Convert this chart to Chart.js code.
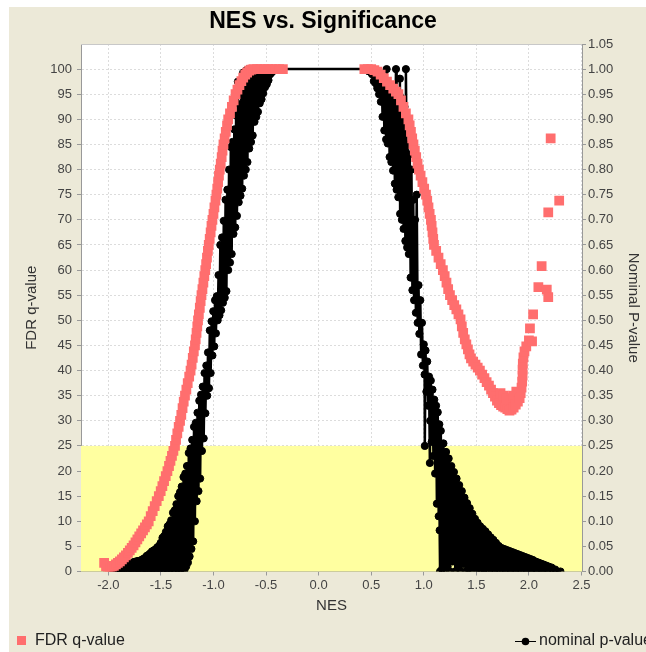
<!DOCTYPE html>
<html><head><meta charset="utf-8">
<script src="https://cdn.jsdelivr.net/npm/chart.js@4.4.0/dist/chart.umd.min.js"></script>
<style>html,body{margin:0;padding:0;background:#fff;overflow:hidden}#wrap{position:absolute;left:0;top:0;width:646px;height:652px}</style>
</head><body><div id="wrap"><canvas id="c" width="646" height="652"></canvas></div>
<script>
// ---- tick labels ----
const xTicks = [-2.0,-1.5,-1.0,-0.5,0.0,0.5,1.0,1.5,2.0,2.5];
const fdrTicks = [0,5,10,15,20,25,30,35,40,45,50,55,60,65,70,75,80,85,90,95,100];
const pTicks = [0,0.05,0.10,0.15,0.20,0.25,0.30,0.35,0.40,0.45,0.50,0.55,0.60,0.65,0.70,0.75,0.80,0.85,0.90,0.95,1.00,1.05];
const fdrCutoff = 25; // yellow significance band, FDR 0..25

// ---- FDR q-value series: [NES, q] ----
const fdrPoints = [
[-2.040,1.7],[-2.022,1.0],[-2.004,0.7],[-1.985,0.7],[-1.966,0.9],[-1.947,1.1],[-1.928,1.4],[-1.909,1.7],
[-1.890,2.0],[-1.871,2.4],[-1.852,2.8],[-1.833,3.2],[-1.814,3.7],[-1.796,4.2],[-1.778,4.7],[-1.760,5.2],
[-1.742,5.8],[-1.724,6.4],[-1.706,7.0],[-1.688,7.6],[-1.670,8.2],[-1.652,8.8],[-1.634,9.4],[-1.616,10.0],
[-1.597,11.0],[-1.578,12.0],[-1.559,13.0],[-1.540,14.0],[-1.520,15.0],[-1.502,16.0],[-1.486,17.0],[-1.470,18.0],
[-1.454,19.0],[-1.438,20.0],[-1.423,21.0],[-1.409,22.0],[-1.395,23.0],[-1.381,24.0],[-1.366,25.0],[-1.356,26.2],
[-1.344,27.5],[-1.331,28.8],[-1.318,30.0],[-1.306,31.2],[-1.294,32.5],[-1.283,33.8],[-1.271,35.0],[-1.258,36.2],
[-1.245,37.5],[-1.231,38.8],[-1.218,40.0],[-1.208,41.2],[-1.197,42.5],[-1.187,43.8],[-1.176,45.0],[-1.169,46.2],
[-1.161,47.5],[-1.154,48.8],[-1.147,50.0],[-1.139,51.2],[-1.130,52.5],[-1.122,53.8],[-1.114,55.0],[-1.105,56.2],
[-1.096,57.5],[-1.087,58.8],[-1.078,60.0],[-1.070,61.2],[-1.062,62.5],[-1.053,63.8],[-1.045,65.0],[-1.036,66.2],
[-1.027,67.5],[-1.019,68.8],[-1.010,70.0],[-1.000,71.2],[-0.991,72.5],[-0.981,73.8],[-0.972,75.0],[-0.964,76.2],
[-0.956,77.5],[-0.948,78.8],[-0.940,80.0],[-0.931,81.2],[-0.922,82.5],[-0.914,83.8],[-0.905,85.0],[-0.894,86.2],
[-0.883,87.5],[-0.871,88.8],[-0.860,90.0],[-0.843,91.2],[-0.825,92.5],[-0.808,93.8],[-0.790,95.0],[-0.772,95.9],
[-0.753,96.8],[-0.735,97.6],[-0.717,98.3],[-0.698,98.9],[-0.680,99.3],[-0.660,99.7],[-0.640,99.9],[-0.620,100],
[-0.585,100],[-0.550,100],[-0.515,100],[-0.480,100],[-0.445,100],[-0.410,100],[-0.375,100],[-0.340,100],
[0.435,100],[0.468,100],[0.500,100],[0.530,99.8],[0.560,99.5],[0.590,98.9],[0.620,98.2],[0.650,97.5],
[0.680,96.8],[0.710,96.1],[0.735,95.5],[0.759,95.0],[0.783,93.8],[0.807,92.5],[0.830,91.2],[0.854,90.0],
[0.866,88.8],[0.878,87.5],[0.890,86.2],[0.902,85.0],[0.915,83.8],[0.928,82.5],[0.941,81.2],[0.954,80.0],
[0.970,78.8],[0.987,77.5],[1.004,76.2],[1.021,75.0],[1.033,73.8],[1.045,72.5],[1.056,71.2],[1.068,70.0],
[1.075,68.8],[1.083,67.5],[1.090,66.2],[1.097,65.0],[1.118,63.8],[1.140,62.5],[1.161,61.2],[1.182,60.0],
[1.199,58.8],[1.216,57.5],[1.232,56.2],[1.249,55.0],[1.270,54.0],[1.290,53.0],[1.310,52.2],[1.330,51.2],
[1.350,50.2],[1.362,48.8],[1.375,47.5],[1.390,46.2],[1.405,45.2],[1.420,44.2],[1.435,43.2],[1.449,42.4],
[1.470,41.8],[1.492,41.2],[1.513,40.6],[1.534,40.0],[1.555,39.2],[1.577,38.5],[1.598,37.7],[1.620,37.0],
[1.640,36.2],[1.658,35.5],[1.677,34.8],[1.696,34.0],[1.715,33.5],[1.730,35.5],[1.735,33.1],[1.755,32.8],
[1.760,35.0],[1.775,32.6],[1.790,34.5],[1.795,32.3],[1.815,32.0],[1.820,34.0],[1.835,32.2],[1.850,35.0],
[1.855,32.6],[1.875,33.2],[1.880,35.8],[1.895,33.8],[1.912,34.5],[1.922,35.5],[1.930,36.6],[1.936,37.8],
[1.940,39.0],[1.940,40.2],[1.942,41.4],[1.948,42.6],[1.958,43.8],[1.975,44.8],[2.000,46.0],[2.030,45.8],
[2.010,48.4],[2.040,51.2],[2.090,56.6],[2.170,56.1],[2.184,54.6],[2.121,60.8],[2.184,71.5],[2.207,86.2],
[2.288,73.8]
];

// ---- nominal p-value series: [NES, p], in NES order ----
const pvalPoints = [
[-1.960,0.000],[-1.952,0.002],[-1.943,0.000],[-1.935,0.003],[-1.927,0.000],[-1.918,0.004],
[-1.910,0.000],[-1.902,0.005],[-1.893,0.000],[-1.885,0.008],[-1.877,0.000],[-1.868,0.009],
[-1.860,0.000],[-1.852,0.011],[-1.843,0.001],[-1.835,0.014],[-1.827,0.000],[-1.818,0.015],
[-1.810,0.001],[-1.802,0.016],[-1.793,0.000],[-1.785,0.017],[-1.777,0.002],[-1.768,0.018],
[-1.760,0.000],[-1.752,0.019],[-1.743,0.001],[-1.735,0.020],[-1.727,0.000],[-1.718,0.021],
[-1.710,0.002],[-1.702,0.021],[-1.693,0.000],[-1.685,0.023],[-1.677,0.001],[-1.668,0.025],
[-1.660,0.000],[-1.652,0.027],[-1.643,0.002],[-1.635,0.031],[-1.627,0.000],[-1.618,0.033],
[-1.610,0.003],[-1.602,0.036],[-1.593,0.000],[-1.585,0.040],[-1.577,0.002],[-1.568,0.042],
[-1.560,0.000],[-1.552,0.044],[-1.543,0.004],[-1.535,0.048],[-1.527,0.000],[-1.518,0.051],
[-1.510,0.003],[-1.502,0.057],[-1.493,0.000],[-1.485,0.067],[-1.477,0.002],[-1.468,0.071],
[-1.460,0.000],[-1.452,0.079],[-1.443,0.004],[-1.435,0.090],[-1.427,0.000],[-1.418,0.094],
[-1.410,0.005],[-1.402,0.102],[-1.393,0.000],[-1.385,0.117],[-1.377,0.003],[-1.368,0.122],
[-1.360,0.000],[-1.352,0.134],[-1.343,0.006],[-1.335,0.150],[-1.327,0.000],[-1.318,0.158],
[-1.310,0.004],[-1.302,0.169],[-1.293,0.000],[-1.285,0.188],[-1.277,0.002],[-1.268,0.195],
[-1.260,0.010],[-1.252,0.210],[-1.243,0.018],[-1.235,0.236],[-1.227,0.030],[-1.218,0.245],
[-1.210,0.045],[-1.202,0.262],[-1.193,0.060],[-1.185,0.288],[-1.177,0.100],[-1.168,0.296],
[-1.160,0.140],[-1.152,0.316],[-1.143,0.160],[-1.135,0.340],[-1.127,0.185],[-1.118,0.352],
[-1.110,0.240],[-1.102,0.368],[-1.093,0.265],[-1.085,0.395],[-1.077,0.315],[-1.068,0.410],
[-1.060,0.350],[-1.052,0.436],[-1.043,0.365],[-1.035,0.480],[-1.027,0.395],[-1.018,0.498],
[-1.010,0.430],[-1.002,0.518],[-0.993,0.448],[-0.985,0.540],[-0.977,0.474],[-0.968,0.548],
[-0.960,0.500],[-0.952,0.590],[-0.943,0.510],[-0.935,0.650],[-0.927,0.520],[-0.918,0.665],
[-0.910,0.535],[-0.902,0.698],[-0.893,0.545],[-0.885,0.740],[-0.877,0.558],[-0.868,0.760],
[-0.860,0.600],[-0.852,0.800],[-0.843,0.615],[-0.835,0.845],[-0.827,0.632],[-0.818,0.855],
[-0.810,0.672],[-0.802,0.880],[-0.793,0.685],[-0.785,0.908],[-0.777,0.708],[-0.768,0.975],
[-0.760,0.735],[-0.752,0.930],[-0.743,0.748],[-0.735,0.952],[-0.727,0.762],[-0.718,0.993],
[-0.710,0.788],[-0.702,0.985],[-0.693,0.800],[-0.685,0.998],[-0.677,0.815],[-0.668,1.000],
[-0.660,0.842],[-0.652,1.000],[-0.643,0.855],[-0.635,0.995],[-0.627,0.868],[-0.618,1.000],
[-0.610,0.895],[-0.602,1.000],[-0.593,0.905],[-0.585,0.998],[-0.577,0.915],[-0.568,1.000],
[-0.560,0.932],[-0.552,1.000],[-0.543,0.940],[-0.535,1.000],[-0.527,0.952],[-0.518,0.998],
[-0.510,0.964],[-0.502,1.000],[-0.493,0.970],[-0.485,1.000],[-0.477,0.978],[-0.468,1.000],
[-0.460,0.990],[-0.452,1.000],[-0.443,0.994],[-0.435,1.000],
[0.450,1.000],[0.458,0.998],[0.467,1.000],[0.475,0.996],[0.483,1.000],[0.492,0.995],
[0.500,1.000],[0.508,0.990],[0.517,1.000],[0.525,0.976],[0.533,0.998],[0.542,0.972],
[0.550,0.995],[0.558,0.962],[0.567,0.993],[0.575,0.950],[0.583,0.990],[0.592,0.935],
[0.600,0.985],[0.608,0.905],[0.617,0.982],[0.625,0.878],[0.633,0.978],[0.642,0.860],
[0.647,1.000],[0.650,0.975],[0.658,0.852],[0.667,0.970],[0.675,0.825],[0.683,0.968],[0.692,0.815],
[0.700,0.963],[0.708,0.798],[0.717,0.960],[0.725,0.772],[0.733,0.958],[0.736,1.000],[0.742,0.760],
[0.750,0.952],[0.758,0.745],[0.767,0.950],[0.773,0.981],[0.775,0.712],[0.783,0.943],[0.792,0.700],
[0.800,0.930],[0.808,0.682],[0.817,0.925],[0.825,0.658],[0.830,1.000],[0.835,0.880],[0.842,0.645],
[0.850,0.850],[0.858,0.632],[0.867,0.830],[0.875,0.585],[0.883,0.800],[0.892,0.560],
[0.900,0.740],[0.908,0.540],[0.917,0.700],[0.925,0.515],[0.933,0.750],[0.942,0.495],
[0.950,0.570],[0.958,0.473],[0.967,0.540],[0.975,0.432],[0.983,0.495],[0.992,0.410],
[1.000,0.452],[1.008,0.392],[1.010,0.250],[1.017,0.440],[1.025,0.358],[1.033,0.418],[1.042,0.330],
[1.050,0.388],[1.058,0.216],[1.061,0.300],[1.067,0.380],[1.075,0.258],[1.083,0.362],[1.092,0.230],
[1.100,0.342],[1.108,0.195],[1.117,0.330],[1.125,0.135],[1.133,0.317],[1.142,0.110],
[1.148,0.293],[1.151,0.082],[1.155,0.000],[1.162,0.280],
[1.175,0.005],[1.187,0.255],[1.200,0.000],[1.212,0.238],[1.225,0.010],[1.237,0.225],
[1.250,0.000],[1.262,0.210],[1.275,0.020],[1.287,0.198],[1.300,0.000],[1.312,0.185],
[1.325,0.008],[1.337,0.172],[1.350,0.000],[1.362,0.160],[1.375,0.015],[1.387,0.147],
[1.400,0.000],[1.412,0.136],[1.425,0.005],[1.437,0.126],[1.450,0.000],[1.462,0.115],
[1.475,0.010],[1.487,0.105],[1.500,0.000],[1.512,0.097],[1.525,0.004],[1.537,0.090],
[1.550,0.000],[1.562,0.085],[1.575,0.006],[1.587,0.080],[1.600,0.000],[1.612,0.074],
[1.625,0.003],[1.637,0.068],[1.650,0.000],[1.662,0.063],[1.675,0.004],[1.687,0.057],
[1.700,0.000],[1.712,0.051],[1.725,0.002],[1.737,0.047],[1.750,0.000],[1.762,0.045],
[1.775,0.003],[1.787,0.043],[1.800,0.000],[1.812,0.041],[1.825,0.002],[1.837,0.039],
[1.850,0.000],[1.862,0.037],[1.875,0.003],[1.887,0.035],[1.900,0.000],[1.912,0.033],
[1.925,0.002],[1.937,0.031],[1.950,0.000],[1.962,0.029],[1.975,0.003],[1.987,0.027],
[2.000,0.000],[2.012,0.025],[2.025,0.002],[2.037,0.023],[2.050,0.000],[2.062,0.020],
[2.075,0.002],[2.087,0.018],[2.100,0.000],[2.112,0.016],[2.125,0.001],[2.137,0.014],
[2.150,0.000],[2.162,0.012],[2.175,0.001],[2.187,0.010],[2.200,0.000],[2.215,0.008],
[2.230,0.001],[2.250,0.004],[2.270,0.000],[2.300,0.000]
];

const FONT = '"Liberation Sans", Arial, Helvetica, sans-serif';
const SALMON = '#FF6E6E';
const BEIGE = '#ECE9D8';
const YELLOW = 'rgb(255,255,160)';

const bgPlugin = {
  id: 'bg',
  beforeDraw(chart) {
    const {ctx, chartArea: a, width, height} = chart;
    ctx.save();
    ctx.fillStyle = '#fff'; ctx.fillRect(0, 0, width, height);
    ctx.fillStyle = BEIGE; ctx.fillRect(9, 7, width - 9, height - 7);
    ctx.fillStyle = '#fff'; ctx.fillRect(a.left, a.top, a.right - a.left, a.bottom - a.top);
    ctx.restore();
  },
  beforeDatasetsDraw(chart) {
    const {ctx, chartArea: a, scales} = chart;
    const y0 = scales.y.getPixelForValue(0), y1 = scales.y.getPixelForValue(fdrCutoff);
    ctx.save();
    ctx.fillStyle = YELLOW;
    ctx.fillRect(a.left, y1, a.right - a.left, y0 - y1);
    ctx.restore();
  },
  afterDraw(chart) {
    const {ctx, chartArea: a} = chart;
    ctx.save();
    ctx.strokeStyle = '#c8c8c8'; ctx.lineWidth = 1;
    ctx.beginPath(); ctx.moveTo(a.left, a.top + 0.5); ctx.lineTo(a.right, a.top + 0.5); ctx.stroke();
    // legend
    const ds = chart.data.datasets;
    const ly = 641;
    ctx.font = '16px ' + FONT; ctx.textBaseline = 'middle'; ctx.textAlign = 'left';
    ctx.fillStyle = SALMON; ctx.fillRect(17, ly - 5, 9, 9);
    ctx.fillStyle = '#222'; ctx.fillText(ds[0].label, 35, ly);
    ctx.strokeStyle = '#000'; ctx.lineWidth = 1;
    ctx.beginPath(); ctx.moveTo(515, ly + 0.5); ctx.lineTo(536, ly + 0.5); ctx.stroke();
    ctx.beginPath(); ctx.arc(525.5, ly + 0.5, 3.8, 0, Math.PI * 2); ctx.fillStyle = '#000'; ctx.fill();
    ctx.fillStyle = '#222'; ctx.fillText(ds[1].label, 539, ly);
    ctx.restore();
  }
};

const gridCommon = {color: '#dcdcdc', lineWidth: 1, drawTicks: true, tickLength: 4, tickColor: '#999', tickWidth: 1};
const borderCommon = {display: true, color: '#999', width: 1, dash: [2, 2]};

new Chart(document.getElementById('c'), {
  type: 'scatter',
  data: {
    datasets: [
      {
        label: 'FDR q-value',
        data: fdrPoints.map(p => ({x: p[0], y: p[1]})),
        yAxisID: 'y', showLine: false,
        pointStyle: 'rect', pointRadius: 6.9, pointHoverRadius: 6.9,
        pointBackgroundColor: SALMON, pointBorderColor: SALMON, pointBorderWidth: 0,
        clip: 0
      },
      {
        label: 'nominal p-value',
        data: pvalPoints.map(p => ({x: p[0], y: p[1]})),
        yAxisID: 'y2', showLine: true,
        borderColor: '#000', borderWidth: 2.5, tension: 0, borderJoinStyle: 'bevel',
        pointStyle: 'circle', pointRadius: 3.6, pointHoverRadius: 3.6,
        pointBackgroundColor: '#000', pointBorderColor: '#000', pointBorderWidth: 1,
        clip: 0
      }
    ]
  },
  options: {
    responsive: false, animation: false, devicePixelRatio: 1,
    events: [],
    layout: {padding: {left: 0, right: 0, top: 0, bottom: 30.5}},
    plugins: {
      legend: {display: false},
      tooltip: {enabled: false},
      title: {display: true, text: 'NES vs. Significance', color: '#000',
        font: {family: FONT, size: 23, weight: 'bold'}, padding: {top: 8.2, bottom: 8.2}}
    },
    scales: {
      x: {
        type: 'linear', position: 'bottom', min: -2.26, max: 2.505,
        afterBuildTicks: s => { s.ticks = xTicks.map(v => ({value: v})); },
        afterFit: s => { s.height = 50; },
        grid: gridCommon, border: borderCommon,
        ticks: {font: {family: FONT, size: 13}, color: '#444', padding: 2, maxRotation: 0, autoSkip: false,
          callback: v => Number(v).toFixed(1)},
        title: {display: true, text: 'NES', color: '#333', font: {family: FONT, size: 15}, padding: {top: 0, bottom: 6.5}}
      },
      y: {
        type: 'linear', position: 'left', min: 0, max: 105,
        afterBuildTicks: s => { s.ticks = fdrTicks.map(v => ({value: v})); },
        afterFit: s => { s.width = 81; },
        grid: gridCommon, border: borderCommon,
        ticks: {font: {family: FONT, size: 13}, color: '#444', padding: 5, autoSkip: false,
          callback: v => String(v)},
        title: {display: true, text: 'FDR q-value', color: '#333', font: {family: FONT, size: 15}, padding: {top: 23, bottom: 0}}
      },
      y2: {
        type: 'linear', position: 'right', min: 0, max: 1.05,
        afterBuildTicks: s => { s.ticks = pTicks.map(v => ({value: v})); },
        afterFit: s => { s.width = 64; },
        grid: Object.assign({}, gridCommon, {drawOnChartArea: false}), border: borderCommon,
        ticks: {font: {family: FONT, size: 13}, color: '#444', padding: 2, autoSkip: false,
          callback: v => Number(v).toFixed(2)},
        title: {display: true, text: 'Nominal P-value', color: '#333', font: {family: FONT, size: 15}, padding: {top: 4, bottom: 0}}
      }
    }
  },
  plugins: [bgPlugin]
});
</script>
</body></html>
